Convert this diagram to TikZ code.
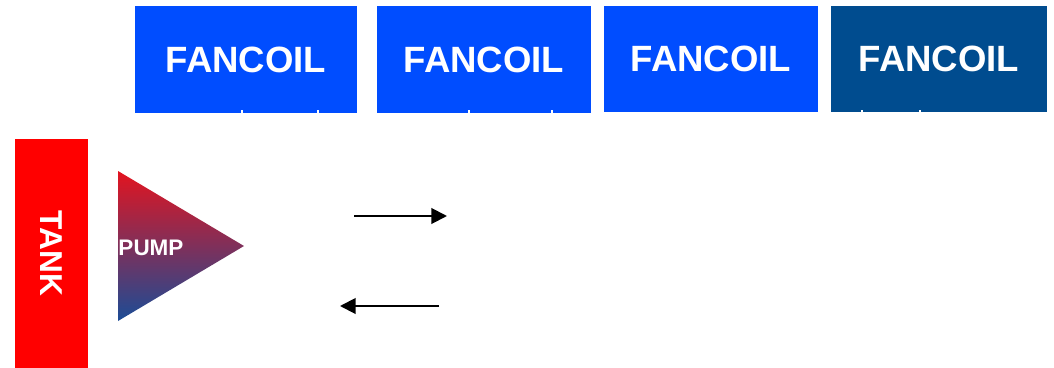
\documentclass[tikz,border=0pt]{standalone}
\usepackage{fontspec}
\setmainfont{Liberation Sans}
\usetikzlibrary{arrows.meta}
\definecolor{fcblue}{HTML}{004DFF}
\definecolor{fcdark}{HTML}{004C8F}
\definecolor{tankred}{HTML}{FF0000}
\definecolor{pumptop}{HTML}{E3141F}
\definecolor{pumpbot}{HTML}{1B4C96}
\begin{document}
\begin{tikzpicture}[x=0.025cm,y=-0.025cm,>={Triangle[length=3.9mm,width=3.9mm]},line join=round,font=\bfseries]
	\tikzset{box/.style={inner sep=0pt,outer sep=0pt,text=white},
		flow/.style={->,line width=1.4pt}}
	\useasboundingbox (0,0) rectangle (1054,368);
	% fancoils
	\foreach \n/\xa/\xb/\yb/\col in {1/135/357/113/fcblue,2/377/591/113/fcblue,3/604/818/112/fcblue,4/831/1047/112/fcdark}{
		\node[box,fill=\col,minimum width={(\xb-\xa)*0.025cm},minimum height={(\yb-6)*0.025cm},font=\fontsize{26}{26}\bfseries]
			(fc\n) at ({(\xa+\xb)/2},{(6+\yb)/2}) {FANCOIL};
	}
	\foreach \x in {242,318,469,552,862,920}{
		\draw[white,line width=1.2pt] (\x,110)--(\x,113.5);
	}
	% tank and pump
	\node[box,fill=tankred,rotate=-90,minimum width=229*0.025cm,minimum height=73*0.025cm,font=\fontsize{22.5}{22.5}\bfseries]
		(tank) at (51.5,253.5) {TANK};
	\shade[top color=pumptop,bottom color=pumpbot] (118,171)--(244,246)--(118,321)--cycle;
	\node[box,font=\fontsize{16}{16}\bfseries] (pump) at (151,248) {PUMP};
	% flow arrows
	\path (354,216)coordinate (s1) (447,216)coordinate (e1)
		(439,306)coordinate (s2) (340,306)coordinate (e2);
	\draw[flow] (s1)--(e1);
	\draw[flow] (s2)--(e2);
\end{tikzpicture}
\end{document}
